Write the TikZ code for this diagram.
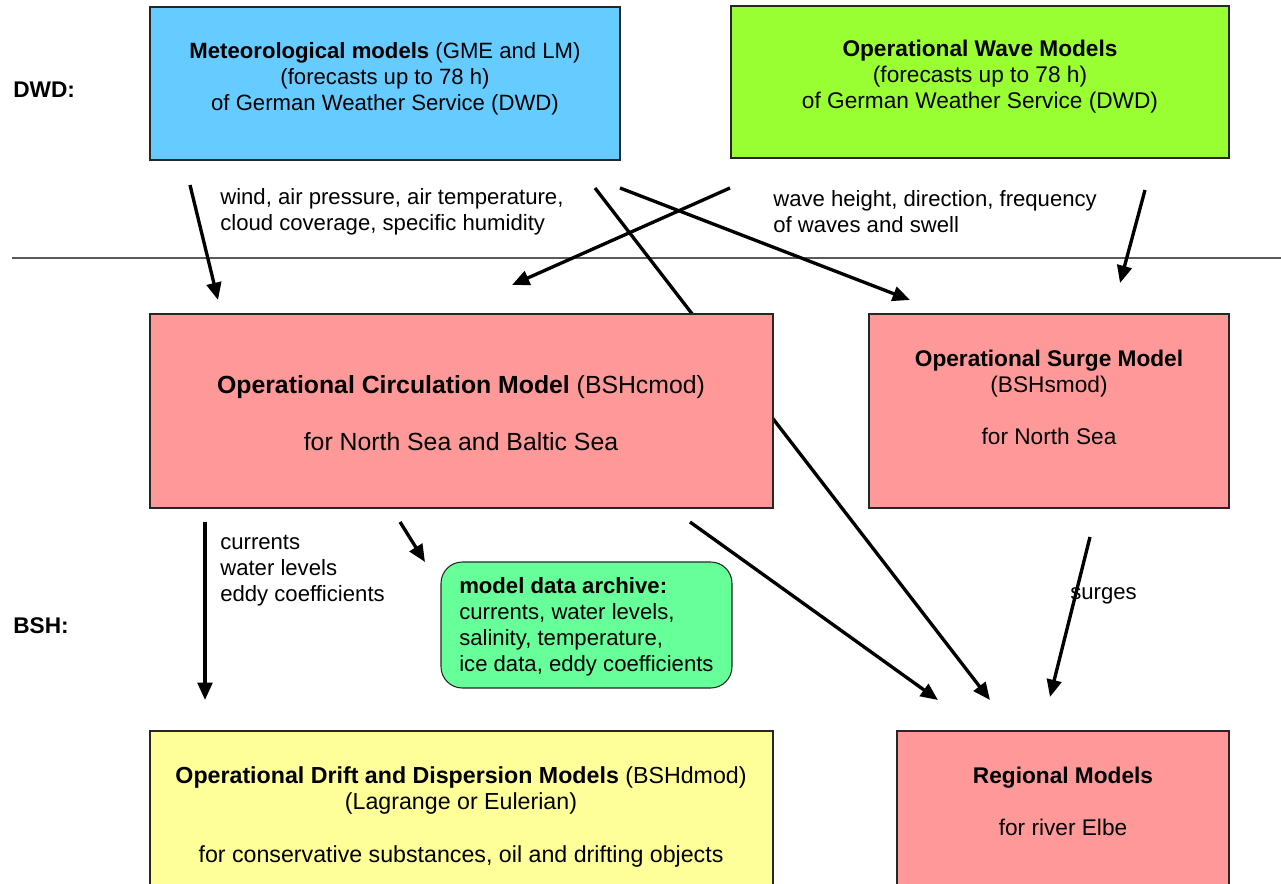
\documentclass[tikz,border=0pt]{standalone}
\usepackage{fontspec}
\setmainfont{Liberation Sans}
\usetikzlibrary{arrows.meta}
\definecolor{metblue}{HTML}{66CCFF}
\definecolor{wavegreen}{HTML}{99FF33}
\definecolor{bshpink}{HTML}{FF9999}
\definecolor{archgreen}{HTML}{66FF99}
\definecolor{driftyellow}{HTML}{FFFF99}
\begin{document}
\begin{tikzpicture}[x=0.75pt,y=-0.75pt,
  box/.style={draw=black!85, line width=0.8pt, inner sep=0pt, anchor=center},
  txt/.style={align=center, inner sep=0pt, anchor=center, font=\fontsize{17}{19.5}\selectfont},
  bigtxt/.style={align=center, inner sep=0pt, anchor=center, font=\fontsize{18.6}{21.4}\selectfont},
  lbl/.style={align=left, inner sep=0pt, anchor=west, font=\fontsize{16.6}{19.5}\selectfont},
  side/.style={inner sep=0pt, anchor=west, font=\fontsize{17}{19.5}\selectfont\bfseries},
  arr/.style={line width=2.5pt, -{Triangle[length=13pt,width=11pt]}},
  ln/.style={line width=2.5pt}]
\useasboundingbox (0,0) rectangle (1281,884);
\clip (0,0) rectangle (1281,884);

% separator line
\coordinate (sepL) at (12,258);
\coordinate (sepR) at (1281,258);
\draw[line width=0.8pt, black!65] (sepL) -- (sepR);

% long arrow from meteorological models to regional models (behind circulation box)
\coordinate (m2rS) at (595,188);
\coordinate (m2rE) at (990,700);
\draw[arr] (m2rS) -- (m2rE);

% boxes
\node[box, fill=metblue, minimum width=352.5pt, minimum height=114.75pt] (met) at (385,83.5) {};
\node[box, fill=wavegreen, minimum width=373.5pt, minimum height=114pt] (wave) at (980,82) {};
\node[box, fill=bshpink, minimum width=467.25pt, minimum height=145.5pt] (circ) at (461.5,411) {};
\node[box, fill=bshpink, minimum width=270pt, minimum height=145.5pt] (surge) at (1049,411) {};
\node[box, fill=archgreen, rounded corners=16pt, minimum width=218.25pt, minimum height=94.5pt] (arch) at (586.5,625) {};
\node[box, fill=driftyellow, minimum width=467.25pt, minimum height=126.75pt] (drift) at (461.5,815.5) {};
\node[box, fill=bshpink, minimum width=249pt, minimum height=126.75pt] (reg) at (1063,815.5) {};

% box texts
\node[txt, font=\fontsize{16.6}{19.5}\selectfont] (metT) at (385,79) {\textbf{Meteorological models} (GME and LM)\\(forecasts up to 78 h)\\of German Weather Service (DWD)};
\node[txt] (waveT) at (980,77) {\textbf{Operational Wave Models}\\(forecasts up to 78 h)\\of German Weather Service (DWD)};
\node[bigtxt] (circT) at (461,413.5) {\textbf{Operational Circulation Model} (BSHcmod)\\[21.4pt]for North Sea and Baltic Sea};
\node[txt] (surgeT) at (1049,397) {\textbf{Operational Surge Model}\\(BSHsmod)\\[19.5pt]for North Sea};
\node[lbl] (archT) at (459,627) {\textbf{model data archive:}\\currents, water levels,\\salinity, temperature,\\ice data, eddy coefficients};
\node[txt, font=\fontsize{17.4}{19.7}\selectfont] (driftT) at (461,817) {\textbf{Operational Drift and Dispersion Models} (BSHdmod)\\(Lagrange or Eulerian)\\[19.7pt]for conservative substances, oil and drifting objects};
\node[txt] (regT) at (1063,801) {\textbf{Regional Models}\\[19.5pt]for river Elbe};

% side labels
\node[side] (dwd) at (13,90) {DWD:};
\node[side] (bsh) at (13,626) {BSH:};

% connector labels
\node[lbl] (lblMet) at (220,212) {wind, air pressure, air temperature,\\cloud coverage, specific humidity};
\node[lbl] (lblWave) at (773,212) {wave height, direction, frequency\\of waves and swell};
\node[lbl] (lblCirc) at (220,571) {currents\\water levels\\eddy coefficients};
\node[lbl] (lblSurge) at (1070,596) {surges};

% arrows
\coordinate (a1S) at (190,185);  \coordinate (a1E) at (218,300);
\coordinate (a3S) at (620,188);  \coordinate (a3E) at (910,300);
\coordinate (a4S) at (730,188);  \coordinate (a4E) at (512,285);
\coordinate (a5S) at (1145,190); \coordinate (a5E) at (1120,283);
\coordinate (a6S) at (205,522);  \coordinate (a6E) at (205,700);
\coordinate (a7S) at (400,522);  \coordinate (a7E) at (425,562);
\coordinate (a8S) at (690,522);  \coordinate (a8E) at (938,700);
\coordinate (a9S) at (1090,537); \coordinate (a9E) at (1050,697);
\draw[arr] (a1S) -- (a1E);
\draw[arr] (a3S) -- (a3E);
\draw[arr] (a4S) -- (a4E);
\draw[arr] (a5S) -- (a5E);
\draw[arr] (a6S) -- (a6E);
\draw[arr] (a7S) -- (a7E);
\draw[arr] (a8S) -- (a8E);
\draw[arr] (a9S) -- (a9E);
\end{tikzpicture}
\end{document}
